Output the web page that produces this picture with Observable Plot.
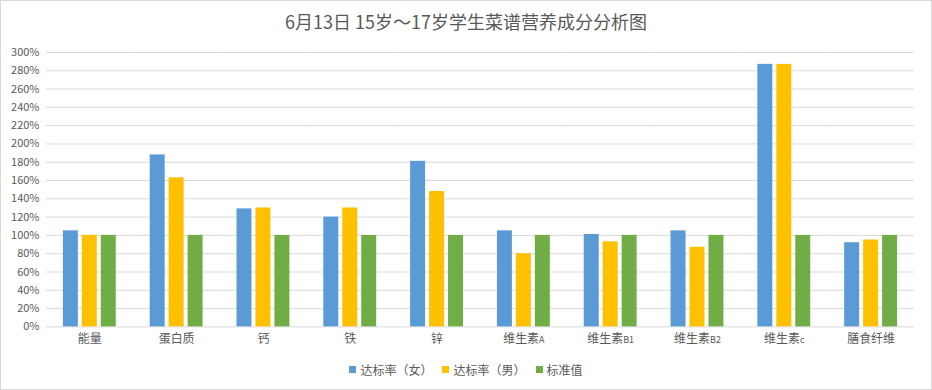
<!DOCTYPE html>
<html>
<head>
<meta charset="utf-8">
<script src="https://cdn.jsdelivr.net/npm/d3@7"></script>
<script src="https://cdn.jsdelivr.net/npm/@observablehq/plot@0.6"></script>
<style>
  html, body { margin: 0; padding: 0; background: #fff; }
  #chart {
    width: 932px; height: 390px; box-sizing: border-box;
    border: 1px solid #d9d9d9; position: relative; overflow: hidden;
    font-family: "Noto Sans CJK SC", "Noto Sans", sans-serif; color: #595959;
  }
  #title {
    height: 39px; line-height: 40px; text-align: center; font-size: 18px; color: #595959;
  }
  #plot svg { display: block; }
  #legend {
    display: flex; justify-content: center; align-items: center;
    height: 30px; font-size: 12px; color: #595959; gap: 10px;
  }
  .item { display: flex; align-items: center; gap: 4px; }
  .sw { width: 7px; height: 7px; display: inline-block; }
</style>
</head>
<body>
<div id="chart">
  <div id="title">6月13日 15岁～17岁学生菜谱营养成分分析图</div>
  <div id="plot"></div>
  <div id="legend"></div>
</div>
<script>
const categories = ["能量", "蛋白质", "钙", "铁", "锌", "维生素A", "维生素B1", "维生素B2", "维生素c", "膳食纤维"];
const series = ["达标率（女）", "达标率（男）", "标准值"];
const colors = ["#5B9BD5", "#FFC000", "#70AD47"];
const female = [1.05, 1.88, 1.29, 1.20, 1.81, 1.05, 1.01, 1.05, 2.87, 0.92];
const male = [1.00, 1.63, 1.30, 1.30, 1.48, 0.80, 0.93, 0.87, 2.87, 0.95];
const standard = [1.00, 1.00, 1.00, 1.00, 1.00, 1.00, 1.00, 1.00, 1.00, 1.00];
const yTicks = [0, 0.2, 0.4, 0.6, 0.8, 1.0, 1.2, 1.4, 1.6, 1.8, 2.0, 2.2, 2.4, 2.6, 2.8, 3.0];

const seriesValues = [female, male, standard];
const data = [];
categories.forEach((c, i) => {
  series.forEach((s, j) => data.push({category: c, series: s, value: seriesValues[j][i]}));
});

const chart = Plot.plot({
  width: 932,
  height: 315,
  marginLeft: 44,
  marginRight: 16,
  marginTop: 12,
  marginBottom: 28,
  style: {fontFamily: '"Noto Sans CJK SC", "Noto Sans", sans-serif', color: "#595959", background: "transparent"},
  fx: {domain: categories, padding: 0, label: null},
  x: {domain: series, paddingInner: 0.2, paddingOuter: 0.84, axis: null},
  y: {domain: [0, 3], label: null},
  color: {domain: series, range: colors},
  marks: [
    Plot.ruleY(yTicks, {stroke: "#d9d9d9", strokeWidth: 1}),
    Plot.barY(data, {fx: "category", x: "series", y: "value", fill: "series"}),
    Plot.axisY(yTicks, {tickSize: 0, tickPadding: 7, tickFormat: d => Math.round(d * 100) + "%", fontSize: 11, fill: "#595959", label: null}),
    Plot.axisFx({anchor: "bottom", tickSize: 0, tickPadding: 8, fontSize: 12, fill: "#595959", label: null})
  ]
});

// smaller Latin suffix in category labels (as in the reference)
chart.querySelectorAll('[aria-label="fx-axis tick label"] text').forEach(t => {
  const m = t.textContent.match(/^(.*?)([A-Za-z0-9]+)$/);
  if (m) {
    t.textContent = m[1];
    const ts = document.createElementNS("http://www.w3.org/2000/svg", "tspan");
    ts.setAttribute("font-size", "9");
    ts.textContent = m[2];
    t.appendChild(ts);
  }
});

document.getElementById("plot").appendChild(chart);

const legend = document.getElementById("legend");
series.forEach((s, i) => {
  const it = document.createElement("div");
  it.className = "item";
  const sw = document.createElement("span");
  sw.className = "sw";
  sw.style.background = colors[i];
  const tx = document.createElement("span");
  tx.textContent = s;
  it.appendChild(sw);
  it.appendChild(tx);
  legend.appendChild(it);
});
</script>
</body>
</html>
